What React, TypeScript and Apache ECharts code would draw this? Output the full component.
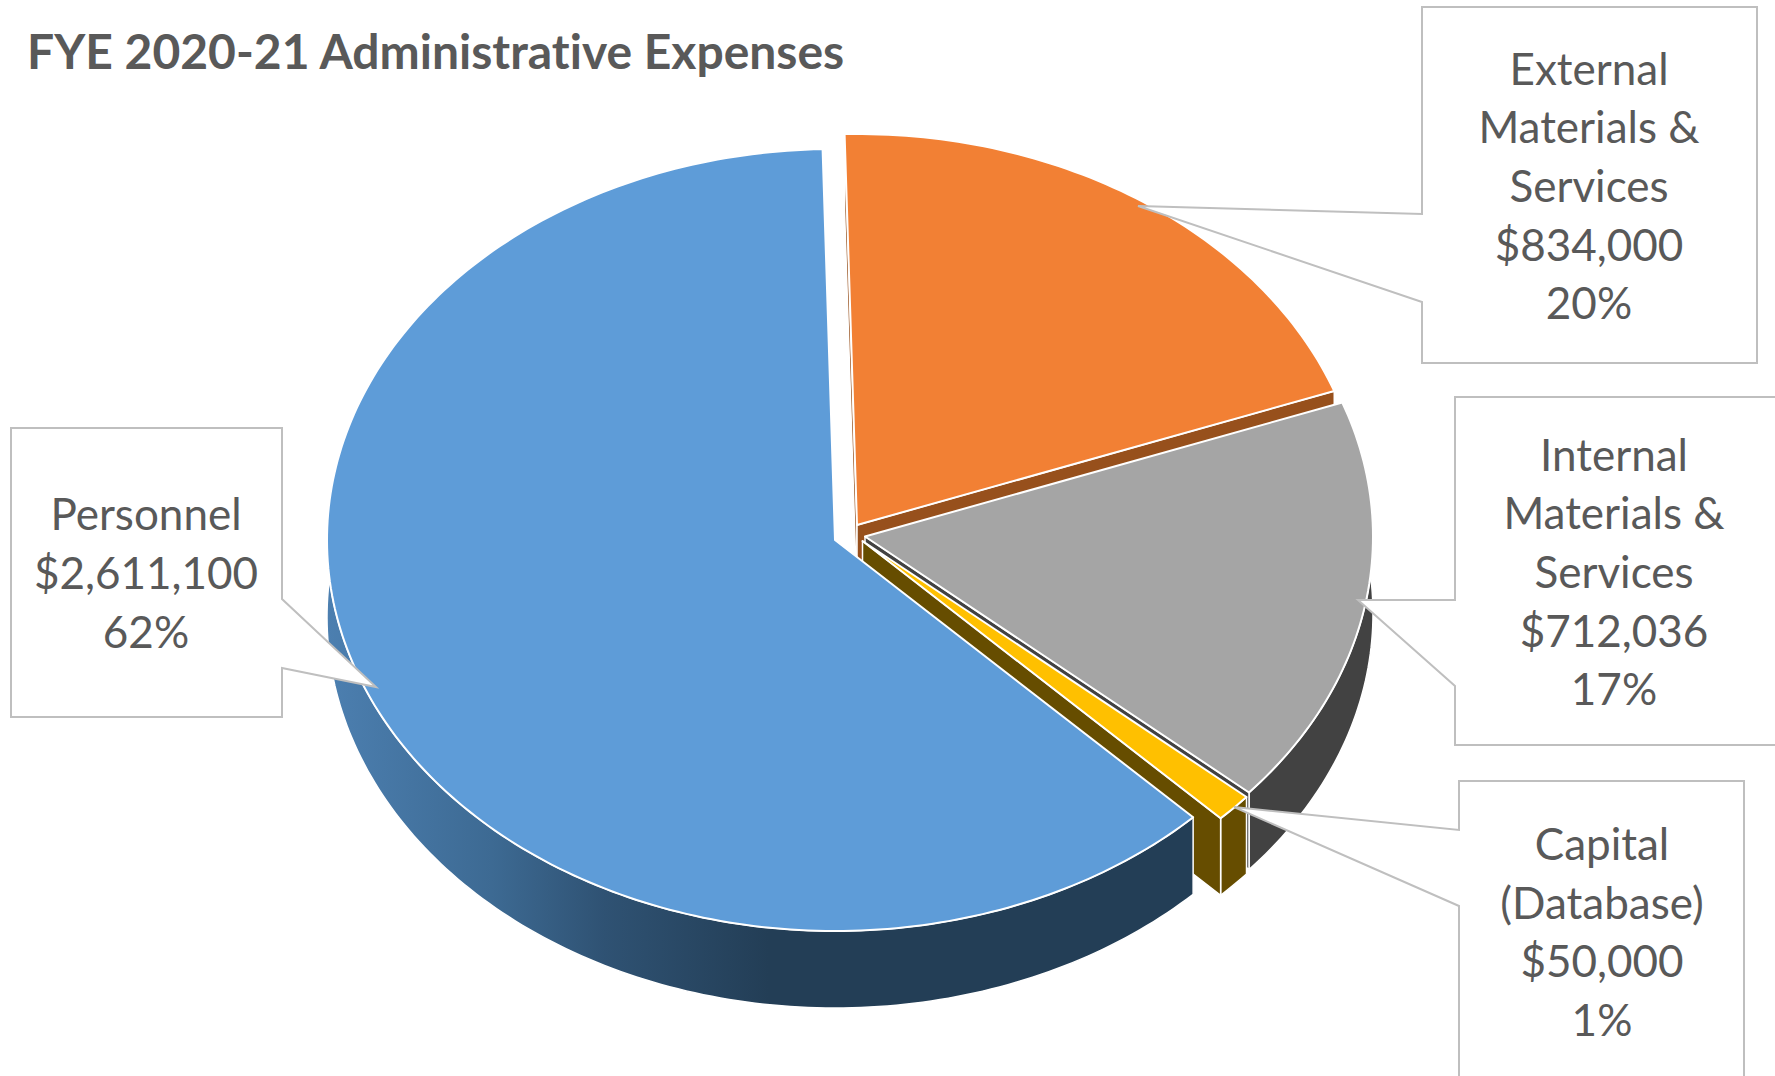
import React, { useEffect, useRef } from "react";
import * as echarts from "echarts";

const titleText = "FYE 2020-21 Administrative Expenses";
const categories = ["External\nMaterials &\nServices", "Internal\nMaterials &\nServices", "Capital\n(Database)", "Personnel"];
const amounts = [834000, 712036, 50000, 2611100];

const INK = "#595959";
const LABEL_FONT = "Lato";
const LABEL_SIZE = 44;
const LINE_HEIGHT = 58.7;

const RX = 508;
const RY = 391;
const DEPTH = 77;
const START_DEG = -1.4;

// Where the tip of each exploded wedge sits on the page.
const wedgeTips = [
  [857, 525],
  [865, 536.5],
  [862.5, 541],
  [835, 540],
];
const topColors = ["#F28034", "#A5A5A5", "#FFC000", "#5E9CD8"];
const wallColors = ["#97501C", "#424242", "#664D00", "#233E56"];

// Callout outlines and the centre of each label, in the same order as the data.
const callouts = [
  { box: [[1422, 7], [1757, 7], [1757, 363], [1422, 363], [1422, 302], [1138, 206], [1422, 214]], text: [1589, 185] },
  { box: [[1455, 397], [1790, 397], [1790, 745], [1455, 745], [1455, 686], [1358, 600], [1455, 600]], text: [1614, 571] },
  { box: [[1459, 781], [1744, 781], [1744, 1100], [1459, 1100], [1459, 906], [1234, 807], [1459, 830]], text: [1602, 931] },
  { box: [[11, 428], [282, 428], [282, 599], [376, 687], [282, 668], [282, 717], [11, 717]], text: [146, 572] },
];

const total = amounts.reduce((a, b) => a + b, 0);
const labelFor = (i: number) =>
  `${categories[i]}\n$${amounts[i].toLocaleString("en-US")}\n${Math.round((amounts[i] / total) * 100)}%`;

const startAngles = amounts.map((_, i) =>
  START_DEG + (amounts.slice(0, i).reduce((a, b) => a + b, 0) / total) * 360
);

const rad = (deg: number) => (deg * Math.PI) / 180;

function rimPoint(tip: number[], deg: number, drop = 0) {
  return [tip[0] + RX * Math.sin(rad(deg)), tip[1] - RY * Math.cos(rad(deg)) + drop];
}

function arcPoints(tip: number[], from: number, to: number, drop = 0) {
  const steps = Math.max(2, Math.ceil(Math.abs(to - from)));
  const out: number[][] = [];
  for (let s = 0; s <= steps; s++) out.push(rimPoint(tip, from + ((to - from) * s) / steps, drop));
  return out;
}

const edge = { stroke: "#ffffff", lineWidth: 2, lineJoin: "round" as const };

function renderWedge(params: any, api: any) {
  const i = params.dataIndex;
  const sweep = (api.value(0) / total) * 360;
  const from = startAngles[i];
  const to = from + sweep;
  const tip = wedgeTips[i];

  // The large wedge's rim shades from lit on the left to dark towards the front.
  const rimFill =
    i === 3
      ? new echarts.graphic.LinearGradient(0, 0, 1, 0, [
          { offset: 0, color: "#4C7FB0" },
          { offset: 0.19, color: "#3D6A93" },
          { offset: 0.32, color: "#2F5273" },
          { offset: 0.51, color: "#233E56" },
          { offset: 1, color: "#233E56" },
        ])
      : wallColors[i];

  const radialWall = (deg: number) => ({
    type: "polygon",
    shape: {
      points: [tip, rimPoint(tip, deg), rimPoint(tip, deg, DEPTH), [tip[0], tip[1] + DEPTH]],
    },
    style: { fill: wallColors[i], ...edge, lineWidth: 1.5 },
  });

  const rimWall = {
    type: "polygon",
    shape: {
      points: [...arcPoints(tip, from, to), ...arcPoints(tip, to, from, DEPTH)],
    },
    style: { fill: rimFill, ...edge, lineWidth: 1.5 },
  };

  const top = {
    type: "polygon",
    shape: { points: [tip, ...arcPoints(tip, from, to)] },
    style: { fill: topColors[i], ...edge },
  };

  // A cut face only shows when it turns towards the viewer.
  const cutFaces = [];
  if (Math.sin(rad(from)) < 0) cutFaces.push(radialWall(from));
  if (Math.sin(rad(to)) > 0) cutFaces.push(radialWall(to));

  return { type: "group", children: [rimWall, ...cutFaces, top] };
}

export default function App() {
  const ref = useRef<HTMLDivElement>(null);

  useEffect(() => {
    const chart = echarts.init(ref.current!, undefined, { renderer: "svg" });
    chart.setOption({
      animation: false,
      backgroundColor: "#ffffff",
      title: {
        text: titleText,
        left: 22,
        top: 21,
        textStyle: { fontFamily: LABEL_FONT, fontWeight: "bold", fontSize: 48, color: INK },
      },
      series: [
        {
          type: "custom",
          coordinateSystem: "none",
          z: 1,
          silent: true,
          data: amounts.map((v) => [v]),
          renderItem: renderWedge,
        },
      ],
      graphic: {
        elements: callouts.flatMap((c, i) => [
          {
            type: "polygon",
            z: 10,
            silent: true,
            shape: { points: c.box },
            style: { fill: "#ffffff", stroke: "#BFBFBF", lineWidth: 2 },
          },
          {
            type: "text",
            z: 11,
            silent: true,
            x: c.text[0],
            y: c.text[1],
            style: {
              text: labelFor(i),
              align: "center",
              verticalAlign: "middle",
              fill: INK,
              fontFamily: LABEL_FONT,
              fontSize: LABEL_SIZE,
              lineHeight: LINE_HEIGHT,
            },
          },
        ]),
      },
    });
    return () => chart.dispose();
  }, []);

  return (
    <div
      ref={ref}
      style={{
        position: "absolute",
        left: 0,
        top: 0,
        width: 1775,
        height: 1076,
        overflow: "hidden",
        fontVariantLigatures: "none",
      }}
    />
  );
}
